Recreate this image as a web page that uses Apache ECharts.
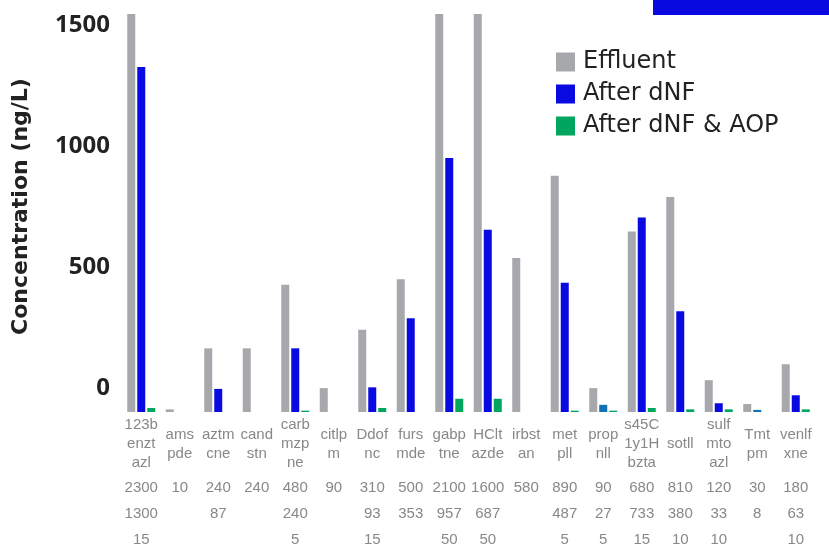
<!DOCTYPE html>
<html>
<head>
<meta charset="utf-8">
<script src="https://cdn.jsdelivr.net/npm/echarts@6/dist/echarts.min.js"></script>
<style>html,body{margin:0;padding:0;background:#fff}#c{width:829px;height:553px}</style>
</head>
<body>
<div id="c"></div>
<script>
const categories = ["123b\nenzt\nazl","ams\npde","aztm\ncne","cand\nstn","carb\nmzp\nne","citlp\nm","Ddof\nnc","furs\nmde","gabp\ntne","HClt\nazde","irbst\nan","met\npll","prop\nnll","s45C\n1y1H\nbzta","sotll","sulf\nmto\nazl","Tmt\npm","venlf\nxne"];
const effluent = [2300,10,240,240,480,90,310,500,2100,1600,580,890,90,680,810,120,30,180];
const afterDNF = [1300,null,87,null,240,null,93,353,957,687,null,487,27,733,380,33,8,63];
const afterAOP = [15,null,null,null,5,null,15,null,50,50,null,5,5,15,10,10,null,10];
const yTicks = [0,500,1000,1500];
const seriesNames = ["Effluent","After dNF","After dNF & AOP"];
const altShadeDNF = ["prop\nnll","Tmt\npm"];

const GRAY = "#a7a8ac", BLUE = "#0909e2", GREEN = "#00a65e", ALT = "#1270b3";
const fmt = v => (v === null || v === undefined) ? "" : String(v);

const chart = echarts.init(document.getElementById("c"), null, {renderer: "canvas"});
chart.setOption({
  animation: false,
  backgroundColor: "#fff",
  graphic: [{type: "rect", left: 653, top: 0, shape: {width: 176, height: 15}, style: {fill: "#0808e0"}, z: 10}],
  legend: {
    orient: "vertical", left: 556, top: 50, padding: 0, itemWidth: 19, itemHeight: 19, itemGap: 8,
    icon: "rect", data: seriesNames,
    textStyle: {fontFamily: "DejaVu Sans", fontSize: 24, color: "#222", padding: [0, 0, 0, 3]}
  },
  grid: [
    {left: 122, right: 14, top: 14, bottom: 141},
    {left: 122, right: 14, top: 25, bottom: 164}
  ],
  xAxis: [
    {type: "category", gridIndex: 0, data: categories,
     axisLine: {show: false}, axisTick: {show: false},
     axisLabel: {interval: 0, margin: 32, verticalAlign: "middle", lineHeight: 19,
       fontFamily: "Liberation Sans", fontSize: 15, color: "#888"}},
    {type: "category", gridIndex: 1, data: categories,
     axisLine: {show: false}, axisTick: {show: false},
     axisLabel: {interval: 0, margin: 126, verticalAlign: "middle", lineHeight: 26,
       fontFamily: "Liberation Sans", fontSize: 15, color: "#888",
       formatter: (v, i) => fmt(effluent[i]) + "\n" + fmt(afterDNF[i]) + "\n" + fmt(afterAOP[i])}}
  ],
  yAxis: [
    {type: "value", gridIndex: 0, min: 0, max: 1500, interval: 500,
     axisLine: {show: false}, axisTick: {show: false}, axisLabel: {show: false}, splitLine: {show: false}},
    {type: "value", gridIndex: 1, min: yTicks[0], max: yTicks[yTicks.length - 1], interval: yTicks[1] - yTicks[0],
     axisLine: {show: false}, axisTick: {show: false}, splitLine: {show: false},
     axisLabel: {margin: 12, fontFamily: "Noto Sans", fontWeight: "bold", fontSize: 24, color: "#222",
       formatter: v => String(v)},
     name: "Concentration (ng/L)", nameLocation: "middle", nameGap: 90,
     nameTextStyle: {fontFamily: "DejaVu Sans", fontWeight: "bold", fontSize: 22, color: "#222"}}
  ],
  series: [
    {name: seriesNames[0], type: "bar", xAxisIndex: 0, yAxisIndex: 0, data: effluent,
     barWidth: 8, barGap: "25%", itemStyle: {color: GRAY}},
    {name: seriesNames[1], type: "bar", xAxisIndex: 0, yAxisIndex: 0, barWidth: 8, barGap: "25%",
     itemStyle: {color: BLUE},
     data: afterDNF.map((v, i) => altShadeDNF.includes(categories[i]) ? {value: v, itemStyle: {color: ALT}} : v)},
    {name: seriesNames[2], type: "bar", xAxisIndex: 0, yAxisIndex: 0, data: afterAOP,
     barWidth: 8, barGap: "25%", itemStyle: {color: GREEN}}
  ]
});
</script>
</body>
</html>
